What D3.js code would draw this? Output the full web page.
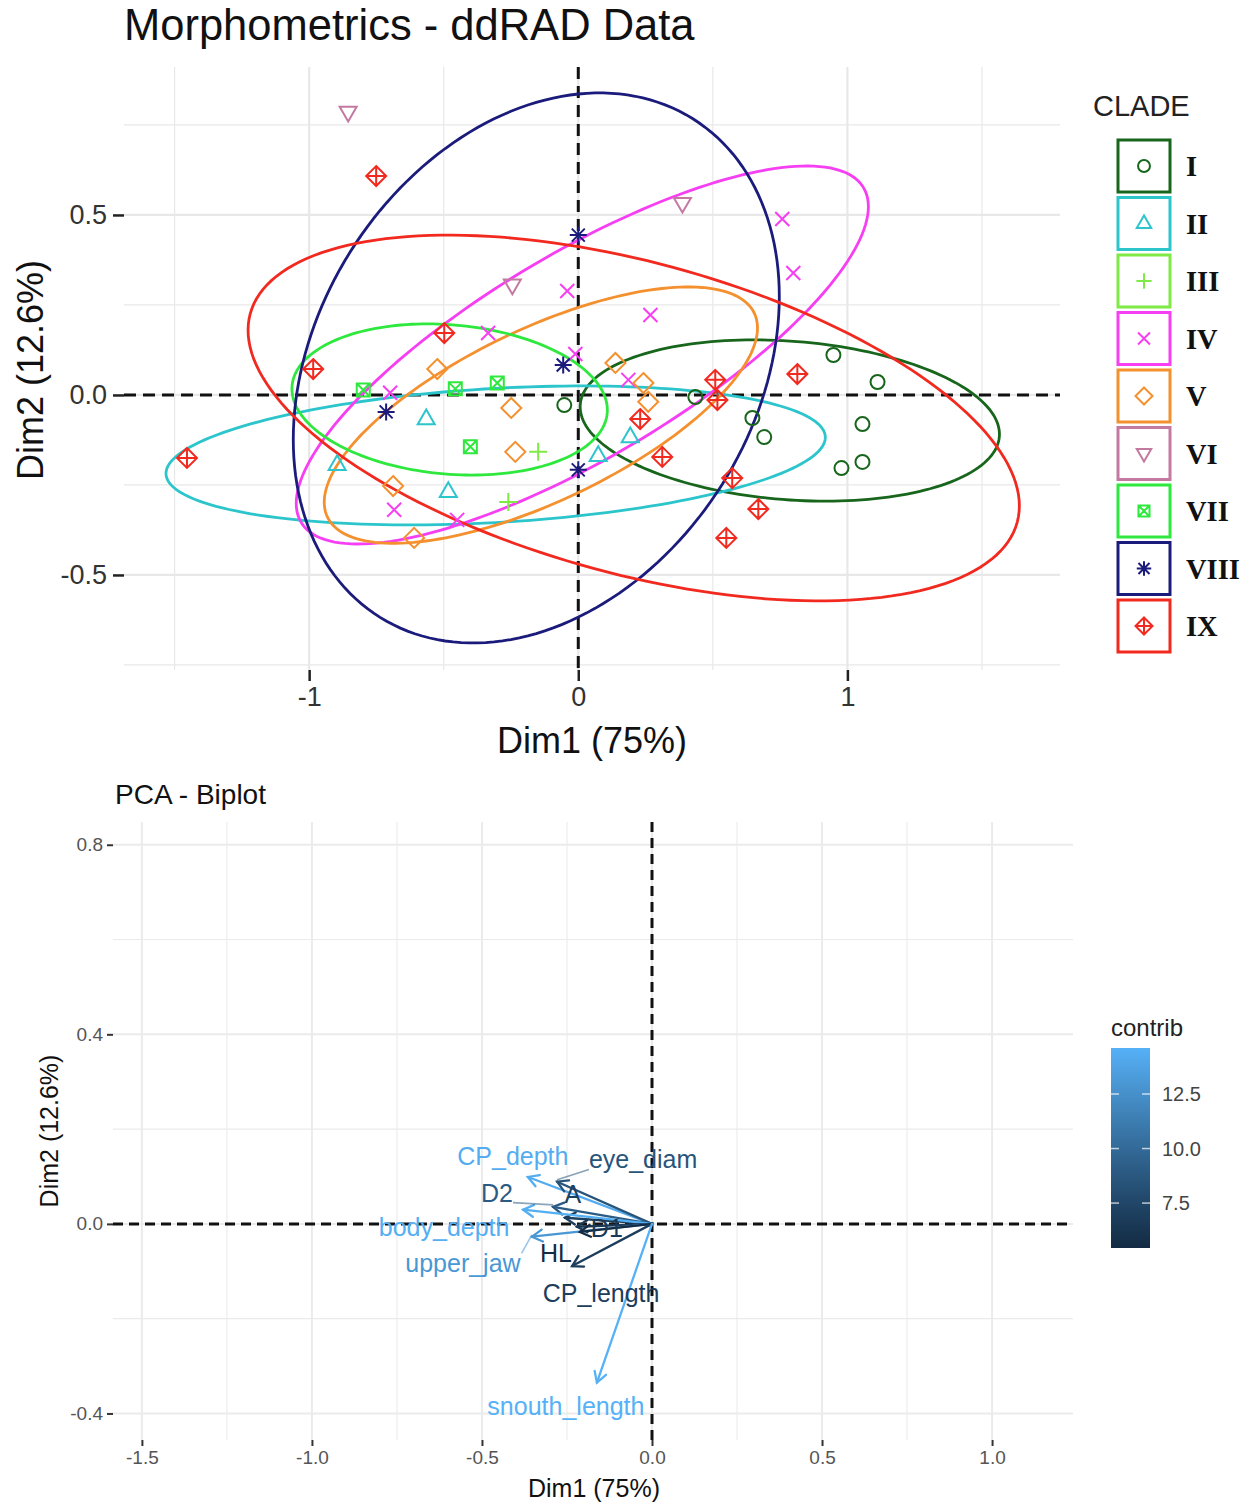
<!DOCTYPE html>
<html>
<head>
<meta charset="utf-8">
<script src="https://cdn.jsdelivr.net/npm/d3@7"></script>
<style>
  body { margin: 0; background: #fff; }
  svg { display: block; }
  text { font-family: "Liberation Sans", Arial, sans-serif; }
</style>
</head>
<body>
<svg id="chart" width="1252" height="1502"></svg>
<script>
// ---- individuals (Dim1, Dim2) ----
const clades = ['I', 'II', 'III', 'IV', 'V', 'VI', 'VII', 'VIII', 'IX'];
const cladeColors = ['#17661c', '#2cc5cc', '#7fea45', '#f63ff2', '#f5902f', '#c47aa0', '#2fe83e', '#1b1b7c', '#f2291f'];
const cladeShapes = ['circle', 'triangle', 'plus', 'cross', 'diamond', 'triangleDown', 'squareCross', 'asterisk', 'diamondPlus'];

const indClade = [
  'I', 'I', 'I', 'I', 'I', 'I', 'I', 'I', 'I',
  'II', 'II', 'II', 'II', 'II',
  'III', 'III',
  'IV', 'IV', 'IV', 'IV', 'IV', 'IV', 'IV', 'IV', 'IV', 'IV',
  'V', 'V', 'V', 'V', 'V', 'V', 'V', 'V',
  'VI', 'VI', 'VI',
  'VII', 'VII', 'VII', 'VII',
  'VIII', 'VIII', 'VIII', 'VIII',
  'IX', 'IX', 'IX', 'IX', 'IX', 'IX', 'IX', 'IX', 'IX', 'IX', 'IX', 'IX'
];
const indDim1 = [
  -0.052, 0.435, 0.647, 0.691, 0.948, 1.112, 1.056, 0.978, 1.056,
  -0.565, -0.896, -0.483, 0.074, 0.193,
  -0.149, -0.260,
  -0.699, -0.335, -0.041, -0.011, 0.268, 0.758, 0.799, -0.684, -0.450, 0.186,
  -0.524, -0.249, -0.234, -0.688, -0.610, 0.138, 0.242, 0.260,
  -0.855, -0.245, 0.387,
  -0.799, -0.457, -0.301, -0.401,
  0.0, -0.056, -0.714, 0.0,
  -0.751, -0.498, -0.985, -1.454, 0.509, 0.814, 0.517, 0.230, 0.312, 0.572, 0.669, 0.550
];
const indDim2 = [
  -0.028, -0.006, -0.064, -0.117, 0.111, 0.036, -0.081, -0.203, -0.186,
  -0.067, -0.194, -0.269, -0.169, -0.117,
  -0.158, -0.297,
  0.006, 0.172, 0.289, 0.114, 0.222, 0.489, 0.339, -0.319, -0.347, 0.042,
  0.072, -0.036, -0.158, -0.253, -0.397, 0.089, 0.033, -0.019,
  0.786, 0.306, 0.533,
  0.014, 0.017, 0.033, -0.144,
  0.444, 0.083, -0.047, -0.208,
  0.608, 0.172, 0.072, -0.175, 0.042, 0.058, -0.014, -0.067, -0.172, -0.231, -0.317, -0.397
];

// ---- concentration ellipses: centre, half extents, x/y coupling ----
const ellClade = ['I', 'II', 'IV', 'V', 'VII', 'VIII', 'IX'];
const ellCx = [0.786, -0.307, 0.015, -0.139, -0.478, -0.156, 0.206];
const ellCy = [-0.071, -0.168, 0.111, -0.056, -0.0125, 0.075, -0.064];
const ellHx = [0.779, 1.225, 1.063, 0.805, 0.586, 0.903, 1.433];
const ellHy = [0.224, 0.193, 0.525, 0.356, 0.210, 0.764, 0.508];
const ellR = [-0.17, 0.26, 0.785, 0.68, -0.14, 0.26, -0.48];

// ---- variables (biplot) ----
const varNames = ['CP_depth', 'eye_diam', 'A', 'D2', 'body_depth', 'D1', 'upper_jaw', 'HL', 'CP_length', 'snouth_length'];
const varDim1 = [-0.365, -0.279, -0.256, -0.291, -0.379, -0.221, -0.353, -0.212, -0.235, -0.162];
const varDim2 = [0.099, 0.089, 0.013, 0.036, 0.030, -0.006, -0.027, -0.017, -0.089, -0.335];
const varContrib = [14.3, 8.5, 7.0, 9.0, 14.4, 6.6, 13.0, 5.44, 6.8, 14.61];

// label placement (px from arrow tip) and repel segments
const labelDx = [-15, 86, 8, -56, -79, 30, -69, -24, 29, -31];
const labelDy = [-21, -22, -23, -14, 18, 2, 27, 21, 27, 24];
const labelLeader = [false, true, false, true, false, false, true, false, false, false];

const svg = d3.select('#chart');
svg.append('rect').attr('width', 1252).attr('height', 1502).attr('fill', '#fff');

function shapePath(shape, k) {
  const p = d3.path();
  const s = k || 1;
  if (shape === 'circle') {
    const r = 7 * s;
    p.moveTo(r, 0); p.arc(0, 0, r, 0, 2 * Math.PI);
  } else if (shape === 'triangle' || shape === 'triangleDown') {
    const f = shape === 'triangle' ? 1 : -1;
    p.moveTo(0, -9.5 * s * f); p.lineTo(8.5 * s, 5.2 * s * f); p.lineTo(-8.5 * s, 5.2 * s * f); p.closePath();
  } else if (shape === 'plus') {
    p.moveTo(-9 * s, 0); p.lineTo(9 * s, 0); p.moveTo(0, -9 * s); p.lineTo(0, 9 * s);
  } else if (shape === 'cross') {
    p.moveTo(-7 * s, -7 * s); p.lineTo(7 * s, 7 * s); p.moveTo(-7 * s, 7 * s); p.lineTo(7 * s, -7 * s);
  } else if (shape === 'diamond') {
    p.moveTo(0, -10 * s); p.lineTo(10 * s, 0); p.lineTo(0, 10 * s); p.lineTo(-10 * s, 0); p.closePath();
  } else if (shape === 'squareCross') {
    const h = 6.5 * s;
    p.rect(-h, -h, 2 * h, 2 * h);
    p.moveTo(-h, -h); p.lineTo(h, h); p.moveTo(-h, h); p.lineTo(h, -h);
  } else if (shape === 'asterisk') {
    const a = 8.5 * s, b = 6.5 * s;
    p.moveTo(-a, 0); p.lineTo(a, 0); p.moveTo(0, -a); p.lineTo(0, a);
    p.moveTo(-b, -b); p.lineTo(b, b); p.moveTo(-b, b); p.lineTo(b, -b);
  } else if (shape === 'diamondPlus') {
    const d = 10 * s;
    p.moveTo(0, -d); p.lineTo(d, 0); p.lineTo(0, d); p.lineTo(-d, 0); p.closePath();
    p.moveTo(-d, 0); p.lineTo(d, 0); p.moveTo(0, -d); p.lineTo(0, d);
  }
  return p.toString();
}

const colorOf = d3.scaleOrdinal().domain(clades).range(cladeColors);
const shapeOf = d3.scaleOrdinal().domain(clades).range(cladeShapes);

// =================== top: individuals ===================
const x1 = d3.scaleLinear().domain([-1.688, 1.79]).range([124, 1060]);
const y1 = d3.scaleLinear().domain([-0.764, 0.911]).range([670, 67]);
const gTop = svg.append('g');

const grid1 = gTop.append('g').attr('stroke', '#e8e8e8').attr('fill', 'none');
[[-1.5, -0.5, 0.5, 1.5, false], [-1, 0, 1, true]].forEach(set => {
  const major = set.pop();
  grid1.selectAll(null).data(set).enter().append('line')
    .attr('x1', d => x1(d)).attr('x2', d => x1(d)).attr('y1', 67).attr('y2', 670)
    .attr('stroke-width', major ? 2.2 : 1.2);
});
[[-0.75, -0.25, 0.25, 0.75, false], [-0.5, 0, 0.5, true]].forEach(set => {
  const major = set.pop();
  grid1.selectAll(null).data(set).enter().append('line')
    .attr('y1', d => y1(d)).attr('y2', d => y1(d)).attr('x1', 124).attr('x2', 1060)
    .attr('stroke-width', major ? 2.2 : 1.2);
});

const ax1 = gTop.append('g').attr('transform', 'translate(0,670)')
  .call(d3.axisBottom(x1).tickValues([-1, 0, 1]).tickFormat(d => String(d)).tickSize(11).tickPadding(6));
const ay1 = gTop.append('g').attr('transform', 'translate(124,0)')
  .call(d3.axisLeft(y1).tickValues([-0.5, 0, 0.5]).tickFormat(d => d.toFixed(1)).tickSize(11).tickPadding(6));
[ax1, ay1].forEach(a => {
  a.select('.domain').remove();
  a.selectAll('.tick line').attr('stroke', '#222').attr('stroke-width', 2.5);
  a.selectAll('.tick text').attr('fill', '#333').style('font-size', '27px');
});

// reference lines
gTop.append('line').attr('x1', 124).attr('x2', 1060).attr('y1', y1(0)).attr('y2', y1(0))
  .attr('stroke', '#111').attr('stroke-width', 3).attr('stroke-dasharray', '12,7');
gTop.append('line').attr('y1', 67).attr('y2', 670).attr('x1', x1(0)).attr('x2', x1(0))
  .attr('stroke', '#111').attr('stroke-width', 3).attr('stroke-dasharray', '12,7');

// ellipses
const ellLine = d3.line().curve(d3.curveLinearClosed);
ellClade.forEach((c, i) => {
  const phi = Math.acos(ellR[i]);
  const pts = d3.range(0, 2 * Math.PI, Math.PI / 90).map(t => [
    x1(ellCx[i] + ellHx[i] * Math.cos(t)),
    y1(ellCy[i] + ellHy[i] * Math.cos(t - phi))
  ]);
  gTop.append('path').attr('d', ellLine(pts)).attr('fill', 'none')
    .attr('stroke', colorOf(c)).attr('stroke-width', 2.8);
});

// points
gTop.selectAll('.ind').data(indClade.map((c, i) => ({ c, x: indDim1[i], y: indDim2[i] })))
  .enter().append('path')
  .attr('class', 'ind')
  .attr('transform', d => 'translate(' + x1(d.x) + ',' + y1(d.y) + ')')
  .attr('d', d => shapePath(shapeOf(d.c)))
  .attr('fill', 'none')
  .attr('stroke', d => colorOf(d.c))
  .attr('stroke-width', 2);

// titles
gTop.append('text').text('Morphometrics - ddRAD Data').attr('x', 124).attr('y', 40)
  .style('font-size', '43.5px').attr('fill', '#111');
gTop.append('text').text('Dim1 (75%)').attr('x', 592).attr('y', 753).attr('text-anchor', 'middle')
  .style('font-size', '36px').attr('fill', '#111');
gTop.append('text').text('Dim2 (12.6%)').attr('transform', 'translate(43,370) rotate(-90)')
  .attr('text-anchor', 'middle').style('font-size', '36px').attr('fill', '#111');

// legend
const leg = gTop.append('g');
leg.append('text').text('CLADE').attr('x', 1093).attr('y', 116).style('font-size', '29px').attr('fill', '#222');
const legItems = leg.selectAll('.leg').data(clades).enter().append('g')
  .attr('transform', (d, i) => 'translate(1144,' + (166 + i * 57.5) + ')');
legItems.append('rect').attr('x', -26).attr('y', -26).attr('width', 52).attr('height', 52)
  .attr('fill', '#fff').attr('stroke', d => colorOf(d)).attr('stroke-width', 3);
legItems.append('path').attr('d', d => shapePath(shapeOf(d), 0.85)).attr('fill', 'none')
  .attr('stroke', d => colorOf(d)).attr('stroke-width', 2);
legItems.append('text').text(d => d).attr('x', 42).attr('y', 10)
  .style('font-family', '"Liberation Serif", "Times New Roman", serif')
  .style('font-weight', 'bold').style('font-size', '28.5px').attr('fill', '#111');

// =================== bottom: biplot ===================
const x2 = d3.scaleLinear().domain([-1.585, 1.238]).range([113, 1073]);
const y2 = d3.scaleLinear().domain([-0.456, 0.848]).range([1440, 822]);
const gBot = svg.append('g');

const grid2 = gBot.append('g').attr('stroke', '#ebebeb').attr('fill', 'none');
[[-1.25, -0.75, -0.25, 0.25, 0.75, false], [-1.5, -1, -0.5, 0, 0.5, 1, true]].forEach(set => {
  const major = set.pop();
  grid2.selectAll(null).data(set).enter().append('line')
    .attr('x1', d => x2(d)).attr('x2', d => x2(d)).attr('y1', 822).attr('y2', 1440)
    .attr('stroke-width', major ? 2 : 1.1);
});
[[-0.2, 0.2, 0.6, false], [-0.4, 0, 0.4, 0.8, true]].forEach(set => {
  const major = set.pop();
  grid2.selectAll(null).data(set).enter().append('line')
    .attr('y1', d => y2(d)).attr('y2', d => y2(d)).attr('x1', 113).attr('x2', 1073)
    .attr('stroke-width', major ? 2 : 1.1);
});

const ax2 = gBot.append('g').attr('transform', 'translate(0,1440)')
  .call(d3.axisBottom(x2).tickValues([-1.5, -1, -0.5, 0, 0.5, 1]).tickFormat(d => d.toFixed(1)).tickSize(6).tickPadding(5));
const ay2 = gBot.append('g').attr('transform', 'translate(113,0)')
  .call(d3.axisLeft(y2).tickValues([-0.4, 0, 0.4, 0.8]).tickFormat(d => d.toFixed(1)).tickSize(6).tickPadding(4));
[ax2, ay2].forEach(a => {
  a.select('.domain').remove();
  a.selectAll('.tick line').attr('stroke', '#333').attr('stroke-width', 2);
  a.selectAll('.tick text').attr('fill', '#555').style('font-size', '19px');
});

gBot.append('line').attr('x1', 113).attr('x2', 1073).attr('y1', y2(0)).attr('y2', y2(0))
  .attr('stroke', '#111').attr('stroke-width', 3).attr('stroke-dasharray', '10,6');
gBot.append('line').attr('y1', 822).attr('y2', 1440).attr('x1', x2(0)).attr('x2', x2(0))
  .attr('stroke', '#111').attr('stroke-width', 3).attr('stroke-dasharray', '10,6');

const contribScale = d3.scaleLinear().domain(d3.extent(varContrib))
  .range(['#132B43', '#56B1F7']).interpolate(d3.interpolateLab);

const vars = varNames.map((n, i) => ({
  n, x: varDim1[i], y: varDim2[i], c: varContrib[i], dx: labelDx[i], dy: labelDy[i], leader: labelLeader[i]
}));

// arrows
const arrows = gBot.append('g').attr('fill', 'none').attr('stroke-width', 2.3).attr('stroke-linecap', 'round');
vars.forEach(v => {
  const x0 = x2(0), yy0 = y2(0), xt = x2(v.x), yt = y2(v.y);
  const ang = Math.atan2(yt - yy0, xt - x0);
  const L = 12, spread = Math.PI / 6;
  const col = contribScale(v.c);
  arrows.append('line').attr('x1', x0).attr('y1', yy0).attr('x2', xt).attr('y2', yt).attr('stroke', col);
  arrows.append('path')
    .attr('d', 'M' + (xt - L * Math.cos(ang - spread)) + ',' + (yt - L * Math.sin(ang - spread)) +
      'L' + xt + ',' + yt +
      'L' + (xt - L * Math.cos(ang + spread)) + ',' + (yt - L * Math.sin(ang + spread)))
    .attr('stroke', col);
});

// labels
const labels = gBot.append('g');
vars.forEach(v => {
  const col = contribScale(v.c);
  const lx = x2(v.x) + v.dx, ly = y2(v.y) + v.dy;
  const t = labels.append('text').text(v.n).attr('x', lx).attr('y', ly).attr('dy', '0.35em')
    .attr('text-anchor', 'middle').style('font-size', '25px').attr('fill', col);
  if (v.leader) {
    const b = t.node().getBBox();
    const xt = x2(v.x), yt = y2(v.y);
    const sx = Math.max(b.x, Math.min(xt, b.x + b.width));
    const sy = Math.max(b.y + 4, Math.min(yt, b.y + b.height - 4));
    labels.insert('line', 'text').attr('x1', sx).attr('y1', sy).attr('x2', xt).attr('y2', yt - 2)
      .attr('stroke', col).attr('stroke-opacity', 0.55).attr('stroke-width', 1.6);
  }
});

gBot.append('text').text('PCA - Biplot').attr('x', 115).attr('y', 804).style('font-size', '28px').attr('fill', '#111');
gBot.append('text').text('Dim1 (75%)').attr('x', 594).attr('y', 1497).attr('text-anchor', 'middle')
  .style('font-size', '25px').attr('fill', '#111');
gBot.append('text').text('Dim2 (12.6%)').attr('transform', 'translate(58,1131) rotate(-90)')
  .attr('text-anchor', 'middle').style('font-size', '25px').attr('fill', '#111');

// colour bar
const cb = gBot.append('g');
const grad = svg.append('defs').append('linearGradient').attr('id', 'contribGrad')
  .attr('x1', 0).attr('x2', 0).attr('y1', 1).attr('y2', 0);
d3.range(0, 1.0001, 0.1).forEach(f => {
  const dom = contribScale.domain();
  grad.append('stop').attr('offset', f).attr('stop-color', contribScale(dom[0] + f * (dom[1] - dom[0])));
});
const yC = d3.scaleLinear().domain(d3.extent(varContrib)).range([1248, 1048]);
cb.append('text').text('contrib').attr('x', 1111).attr('y', 1036).style('font-size', '24px').attr('fill', '#222');
cb.append('rect').attr('x', 1111).attr('y', 1048).attr('width', 39).attr('height', 200).attr('fill', 'url(#contribGrad)');
const cbTicks = [7.5, 10, 12.5];
cb.selectAll('.cbl').data(cbTicks).enter().append('line')
  .attr('x1', 1111).attr('x2', 1119).attr('y1', d => yC(d)).attr('y2', d => yC(d))
  .attr('stroke', '#fff').attr('stroke-opacity', 0.7).attr('stroke-width', 1.5);
cb.selectAll('.cbr').data(cbTicks).enter().append('line')
  .attr('x1', 1142).attr('x2', 1150).attr('y1', d => yC(d)).attr('y2', d => yC(d))
  .attr('stroke', '#fff').attr('stroke-opacity', 0.7).attr('stroke-width', 1.5);
cb.selectAll('.cbt').data(cbTicks).enter().append('text')
  .text(d => d.toFixed(1)).attr('x', 1162).attr('y', d => yC(d)).attr('dy', '0.35em')
  .style('font-size', '20px').attr('fill', '#444');
</script>
</body>
</html>
